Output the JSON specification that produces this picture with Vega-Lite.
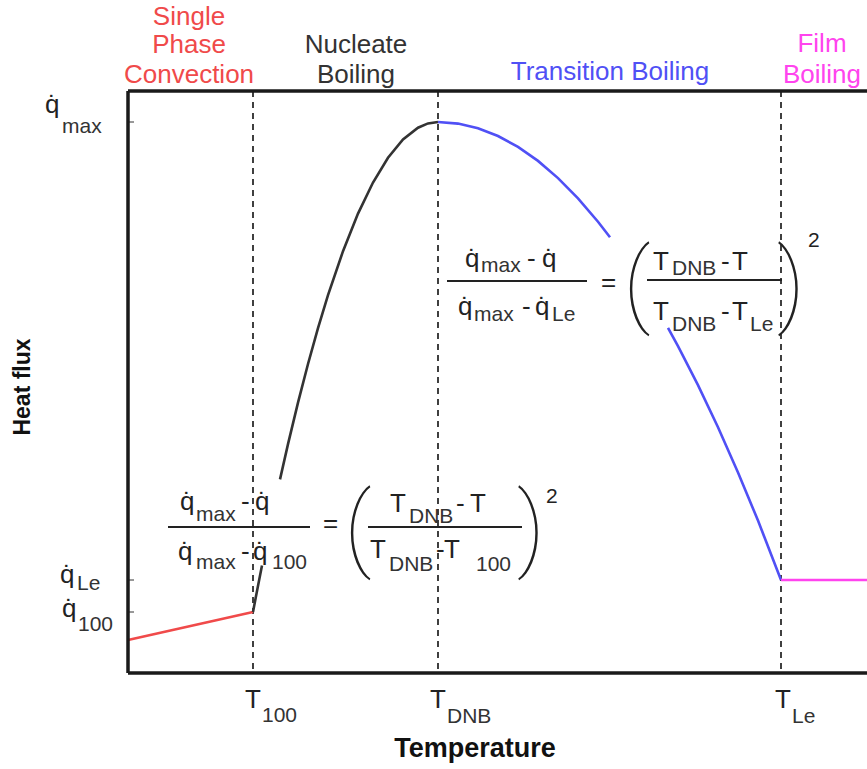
{
  "$schema": "https://vega.github.io/schema/vega-lite/v6.json",
  "width": 739,
  "height": 582,
  "autosize": {"type": "none"},
  "padding": {"left": 128, "top": 91, "right": 0, "bottom": 96},
  "background": "white",
  "config": {"view": {"stroke": null}, "font": "Liberation Sans"},
  "datasets": {
    "curves": [
      {"seg": "conv", "phase": "Single Phase Convection", "x": 0, "y": 33},
      {"seg": "conv", "phase": "Single Phase Convection", "x": 125, "y": 61},
      {"seg": "nuc1", "phase": "Nucleate Boiling", "x": 125, "y": 61},
      {"seg": "nuc1", "phase": "Nucleate Boiling", "x": 128, "y": 76.7},
      {"seg": "nuc1", "phase": "Nucleate Boiling", "x": 131, "y": 92.3},
      {"seg": "nuc1", "phase": "Nucleate Boiling", "x": 134, "y": 107.5},
      {"seg": "nuc2", "phase": "Nucleate Boiling", "x": 152, "y": 193.6},
      {"seg": "nuc2", "phase": "Nucleate Boiling", "x": 160, "y": 228.9},
      {"seg": "nuc2", "phase": "Nucleate Boiling", "x": 170, "y": 270.4},
      {"seg": "nuc2", "phase": "Nucleate Boiling", "x": 180, "y": 309.0},
      {"seg": "nuc2", "phase": "Nucleate Boiling", "x": 190, "y": 344.8},
      {"seg": "nuc2", "phase": "Nucleate Boiling", "x": 200, "y": 377.8},
      {"seg": "nuc2", "phase": "Nucleate Boiling", "x": 215, "y": 421.8},
      {"seg": "nuc2", "phase": "Nucleate Boiling", "x": 230, "y": 459.4},
      {"seg": "nuc2", "phase": "Nucleate Boiling", "x": 245, "y": 490.5},
      {"seg": "nuc2", "phase": "Nucleate Boiling", "x": 260, "y": 515.2},
      {"seg": "nuc2", "phase": "Nucleate Boiling", "x": 275, "y": 533.5},
      {"seg": "nuc2", "phase": "Nucleate Boiling", "x": 290, "y": 545.3},
      {"seg": "nuc2", "phase": "Nucleate Boiling", "x": 300, "y": 549.6},
      {"seg": "nuc2", "phase": "Nucleate Boiling", "x": 310, "y": 551},
      {"seg": "tr1", "phase": "Transition Boiling", "x": 310, "y": 551},
      {"seg": "tr1", "phase": "Transition Boiling", "x": 330, "y": 549.4},
      {"seg": "tr1", "phase": "Transition Boiling", "x": 350, "y": 544.8},
      {"seg": "tr1", "phase": "Transition Boiling", "x": 370, "y": 537.0},
      {"seg": "tr1", "phase": "Transition Boiling", "x": 390, "y": 526.1},
      {"seg": "tr1", "phase": "Transition Boiling", "x": 410, "y": 512.1},
      {"seg": "tr1", "phase": "Transition Boiling", "x": 430, "y": 494.9},
      {"seg": "tr1", "phase": "Transition Boiling", "x": 450, "y": 474.7},
      {"seg": "tr1", "phase": "Transition Boiling", "x": 470, "y": 451.3},
      {"seg": "tr1", "phase": "Transition Boiling", "x": 482, "y": 435.8},
      {"seg": "tr2", "phase": "Transition Boiling", "x": 540, "y": 345.1},
      {"seg": "tr2", "phase": "Transition Boiling", "x": 550, "y": 326.8},
      {"seg": "tr2", "phase": "Transition Boiling", "x": 570, "y": 287.8},
      {"seg": "tr2", "phase": "Transition Boiling", "x": 590, "y": 245.8},
      {"seg": "tr2", "phase": "Transition Boiling", "x": 610, "y": 200.6},
      {"seg": "tr2", "phase": "Transition Boiling", "x": 630, "y": 152.4},
      {"seg": "tr2", "phase": "Transition Boiling", "x": 653, "y": 93},
      {"seg": "film", "phase": "Film Boiling", "x": 653, "y": 93},
      {"seg": "film", "phase": "Film Boiling", "x": 739, "y": 93}
    ],
    "vlines": [{"x": 125}, {"x": 310}, {"x": 653}],
    "yticks": [{"y": 551}, {"y": 93}, {"y": 61}],
    "fracs": [
      {"x": 319, "x2": 459, "y": 392},
      {"x": 519, "x2": 654, "y": 393},
      {"x": 40, "x2": 182, "y": 146},
      {"x": 240, "x2": 394, "y": 146}
    ],
    "mathMain": [
      {"x": -83, "y": 560, "t": "q̇"},
      {"x": -68, "y": 90, "t": "q̇"},
      {"x": -66, "y": 56, "t": "q̇"},
      {"x": 117, "y": -35, "t": "T"},
      {"x": 302, "y": -35, "t": "T"},
      {"x": 647, "y": -35, "t": "T"},
      {"x": 337, "y": 406, "t": "q̇"},
      {"x": 399, "y": 406, "t": "-"},
      {"x": 414, "y": 406, "t": "q̇"},
      {"x": 330, "y": 358, "t": "q̇"},
      {"x": 394, "y": 358, "t": "-"},
      {"x": 407, "y": 358, "t": "q̇"},
      {"x": 473, "y": 382, "t": "="},
      {"x": 525, "y": 403, "t": "T"},
      {"x": 593, "y": 403, "t": "-"},
      {"x": 604, "y": 403, "t": "T"},
      {"x": 525, "y": 353, "t": "T"},
      {"x": 593, "y": 353, "t": "-"},
      {"x": 604, "y": 353, "t": "T"},
      {"x": 52, "y": 163, "t": "q̇"},
      {"x": 113, "y": 163, "t": "-"},
      {"x": 127, "y": 163, "t": "q̇"},
      {"x": 50, "y": 113, "t": "q̇"},
      {"x": 113, "y": 113, "t": "-"},
      {"x": 125, "y": 113, "t": "q̇"},
      {"x": 195, "y": 141, "t": "="},
      {"x": 262, "y": 161, "t": "T"},
      {"x": 328, "y": 161, "t": "-"},
      {"x": 342, "y": 161, "t": "T"},
      {"x": 242, "y": 115, "t": "T"},
      {"x": 308, "y": 115, "t": "-"},
      {"x": 316, "y": 115, "t": "T"}
    ],
    "mathSub": [
      {"x": -66, "y": 540, "t": "max"},
      {"x": -51, "y": 83, "t": "Le"},
      {"x": -50, "y": 42, "t": "100"},
      {"x": 134, "y": -49, "t": "100"},
      {"x": 319, "y": -50, "t": "DNB"},
      {"x": 664, "y": -50, "t": "Le"},
      {"x": 353, "y": 401, "t": "max"},
      {"x": 346, "y": 352, "t": "max"},
      {"x": 424, "y": 352, "t": "Le"},
      {"x": 544, "y": 398, "t": "DNB"},
      {"x": 544, "y": 342, "t": "DNB"},
      {"x": 622, "y": 342, "t": "Le"},
      {"x": 68, "y": 152, "t": "max"},
      {"x": 68, "y": 104, "t": "max"},
      {"x": 144, "y": 104, "t": "100"},
      {"x": 281, "y": 150, "t": "DNB"},
      {"x": 261, "y": 102, "t": "DNB"},
      {"x": 348, "y": 102, "t": "100"}
    ],
    "parens": [
      {"x": 509, "y": 386, "t": "("},
      {"x": 663, "y": 386, "t": ")"},
      {"x": 230, "y": 142, "t": "("},
      {"x": 403, "y": 142, "t": ")"}
    ],
    "sups": [
      {"x": 680, "y": 426, "t": "2"},
      {"x": 418, "y": 170, "t": "2"}
    ],
    "regions": [
      {"x": 61, "y": 648, "t": "Single", "phase": "Single Phase Convection"},
      {"x": 61, "y": 620, "t": "Phase", "phase": "Single Phase Convection"},
      {"x": 61, "y": 590, "t": "Convection", "phase": "Single Phase Convection"},
      {"x": 228, "y": 620, "t": "Nucleate", "phase": "Nucleate Boiling"},
      {"x": 228, "y": 590, "t": "Boiling", "phase": "Nucleate Boiling"},
      {"x": 482, "y": 593, "t": "Transition Boiling", "phase": "Transition Boiling"},
      {"x": 694, "y": 621, "t": "Film", "phase": "Film Boiling"},
      {"x": 694, "y": 590, "t": "Boiling", "phase": "Film Boiling"}
    ],
    "xtitle": [{"x": 347, "y": -84, "t": "Temperature"}],
    "ytitle": [{"x": -105, "y": 286, "t": "Heat flux"}]
  },
  "layer": [
    {
      "data": {"name": "vlines"},
      "mark": {"type": "rule", "color": "#111111", "strokeWidth": 1.6, "strokeDash": [6, 5]},
      "encoding": {
        "x": {"field": "x", "type": "quantitative", "scale": {"domain": [0, 739], "nice": false, "zero": false}, "axis": null}
      }
    },
    {
      "data": {"name": "curves"},
      "mark": {"type": "line", "strokeWidth": 2.6},
      "encoding": {
        "x": {"field": "x", "type": "quantitative", "scale": {"domain": [0, 739], "nice": false, "zero": false}, "axis": null},
        "y": {"field": "y", "type": "quantitative", "scale": {"domain": [0, 582], "nice": false, "zero": false}, "axis": null},
        "detail": {"field": "seg"},
        "color": {"field": "phase", "type": "nominal", "legend": null,
          "scale": {"domain": ["Single Phase Convection", "Nucleate Boiling", "Transition Boiling", "Film Boiling"],
            "range": ["#f04a4a", "#333333", "#5050f5", "#ff44ee"]}}
      }
    },
    {
      "data": {"name": "yticks"},
      "mark": {"type": "rule", "color": "#333333", "strokeWidth": 1},
      "encoding": {
        "x": {"datum": 0, "type": "quantitative", "scale": {"domain": [0, 739], "nice": false, "zero": false}, "axis": null},
        "x2": {"datum": 6},
        "y": {"field": "y", "type": "quantitative", "scale": {"domain": [0, 582], "nice": false, "zero": false}, "axis": null}
      }
    },
    {
      "data": {"name": "fracs"},
      "mark": {"type": "rule", "color": "#222222", "strokeWidth": 2},
      "encoding": {
        "x": {"field": "x", "type": "quantitative", "scale": {"domain": [0, 739], "nice": false, "zero": false}, "axis": null},
        "x2": {"field": "x2"},
        "y": {"field": "y", "type": "quantitative", "scale": {"domain": [0, 582], "nice": false, "zero": false}, "axis": null}
      }
    },
    {
      "data": {"values": [{"x": 0}]},
      "mark": {"type": "rule", "color": "#1a1a1a", "strokeWidth": 3.5},
      "encoding": {
        "x": {"field": "x", "type": "quantitative", "scale": {"domain": [0, 739], "nice": false, "zero": false}, "axis": null}
      }
    },
    {
      "data": {"values": [{"y": 0}, {"y": 582}]},
      "mark": {"type": "rule", "color": "#1a1a1a", "strokeWidth": 3.5},
      "encoding": {
        "y": {"field": "y", "type": "quantitative", "scale": {"domain": [0, 582], "nice": false, "zero": false}, "axis": null}
      }
    },
    {
      "data": {"name": "mathMain"},
      "mark": {"type": "text", "fontSize": 26, "align": "left", "baseline": "alphabetic", "color": "#222222", "font": "Liberation Sans"},
      "encoding": {
        "x": {"field": "x", "type": "quantitative", "scale": {"domain": [0, 739], "nice": false, "zero": false}, "axis": null},
        "y": {"field": "y", "type": "quantitative", "scale": {"domain": [0, 582], "nice": false, "zero": false}, "axis": null},
        "text": {"field": "t"}
      }
    },
    {
      "data": {"name": "mathSub"},
      "mark": {"type": "text", "fontSize": 21, "align": "left", "baseline": "alphabetic", "color": "#333333", "font": "Liberation Sans"},
      "encoding": {
        "x": {"field": "x", "type": "quantitative", "scale": {"domain": [0, 739], "nice": false, "zero": false}, "axis": null},
        "y": {"field": "y", "type": "quantitative", "scale": {"domain": [0, 582], "nice": false, "zero": false}, "axis": null},
        "text": {"field": "t"}
      }
    },
    {
      "data": {"name": "sups"},
      "mark": {"type": "text", "fontSize": 21, "align": "left", "baseline": "alphabetic", "color": "#222222", "font": "Liberation Sans"},
      "encoding": {
        "x": {"field": "x", "type": "quantitative", "scale": {"domain": [0, 739], "nice": false, "zero": false}, "axis": null},
        "y": {"field": "y", "type": "quantitative", "scale": {"domain": [0, 582], "nice": false, "zero": false}, "axis": null},
        "text": {"field": "t"}
      }
    },
    {
      "data": {"name": "parens"},
      "mark": {"type": "text", "fontSize": 92, "fontWeight": 100, "align": "center", "baseline": "middle", "color": "#222222", "font": "Roboto"},
      "encoding": {
        "x": {"field": "x", "type": "quantitative", "scale": {"domain": [0, 739], "nice": false, "zero": false}, "axis": null},
        "y": {"field": "y", "type": "quantitative", "scale": {"domain": [0, 582], "nice": false, "zero": false}, "axis": null},
        "text": {"field": "t"}
      }
    },
    {
      "data": {"name": "regions"},
      "mark": {"type": "text", "fontSize": 26, "align": "center", "baseline": "alphabetic", "font": "Liberation Sans"},
      "encoding": {
        "x": {"field": "x", "type": "quantitative", "scale": {"domain": [0, 739], "nice": false, "zero": false}, "axis": null},
        "y": {"field": "y", "type": "quantitative", "scale": {"domain": [0, 582], "nice": false, "zero": false}, "axis": null},
        "text": {"field": "t"},
        "color": {"field": "phase", "type": "nominal", "legend": null,
          "scale": {"domain": ["Single Phase Convection", "Nucleate Boiling", "Transition Boiling", "Film Boiling"],
            "range": ["#f04a4a", "#333333", "#5050f5", "#ff44ee"]}}
      }
    },
    {
      "data": {"name": "xtitle"},
      "mark": {"type": "text", "fontSize": 27, "fontWeight": "bold", "align": "center", "baseline": "alphabetic", "color": "#111111", "font": "Liberation Sans"},
      "encoding": {
        "x": {"field": "x", "type": "quantitative", "scale": {"domain": [0, 739], "nice": false, "zero": false}, "axis": null},
        "y": {"field": "y", "type": "quantitative", "scale": {"domain": [0, 582], "nice": false, "zero": false}, "axis": null},
        "text": {"field": "t"}
      }
    },
    {
      "data": {"name": "ytitle"},
      "mark": {"type": "text", "fontSize": 23, "fontWeight": "bold", "angle": 270, "align": "center", "baseline": "middle", "color": "#111111", "font": "Liberation Sans"},
      "encoding": {
        "x": {"field": "x", "type": "quantitative", "scale": {"domain": [0, 739], "nice": false, "zero": false}, "axis": null},
        "y": {"field": "y", "type": "quantitative", "scale": {"domain": [0, 582], "nice": false, "zero": false}, "axis": null},
        "text": {"field": "t"}
      }
    }
  ]
}
